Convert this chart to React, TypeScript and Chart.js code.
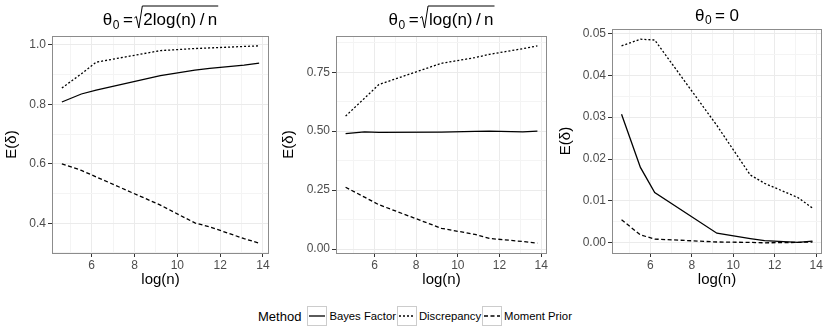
import React, { useEffect, useRef } from 'react';
import { Chart, registerables } from 'chart.js';

Chart.register(...registerables);

const FONT = '"Liberation Sans", Arial, Helvetica, sans-serif';

// ---- data ----
const logN = [4.61, 5.52, 6.21, 9.21, 10.82, 11.51, 13.12, 13.82];

const bf1 = [0.808, 0.835, 0.848, 0.897, 0.915, 0.921, 0.932, 0.939];
const disc1 = [0.855, 0.903, 0.942, 0.981, 0.988, 0.990, 0.995, 0.997];
const mp1 = [0.600, 0.578, 0.556, 0.461, 0.401, 0.388, 0.348, 0.333];

const bf2 = [0.490, 0.497, 0.495, 0.496, 0.499, 0.500, 0.497, 0.500];
const disc2 = [0.564, 0.640, 0.698, 0.788, 0.812, 0.826, 0.850, 0.862];
const mp2 = [0.262, 0.220, 0.188, 0.088, 0.062, 0.045, 0.032, 0.025];

const bf3 = [0.0307, 0.0180, 0.0120, 0.0023, 0.0010, 0.0005, 0.0001, 0.0004];
const disc3 = [0.0470, 0.0486, 0.0484, 0.0280, 0.0162, 0.0142, 0.0108, 0.0083];
const mp3 = [0.0055, 0.0019, 0.0009, 0.0002, 0.0001, 0.0000, 0.0001, 0.0002];

const xMajor = [6, 8, 10, 12, 14];
const y1Major = [0.4, 0.6, 0.8, 1.0];
const y2Major = [0, 0.25, 0.5, 0.75];
const y3Major = [0, 0.01, 0.02, 0.03, 0.04, 0.05];

const methods = ['Bayes Factor', 'Discrepancy', 'Moment Prior'];
const xTitle = 'log(n)';
const yTitle = 'E(\u03b4)';
const legendTitle = 'Method';

// ---- styles ----
const DASHES: number[][] = [[], [2, 2], [4, 2.5]];

function expand(arrs: number[][]): [number, number] {
  const all = arrs.flat();
  const lo = Math.min(...all);
  const hi = Math.max(...all);
  const d = (hi - lo) * 0.05;
  return [lo - d, hi + d];
}

function tickList(majors: number[], lo: number, hi: number) {
  const step = majors[1] - majors[0];
  const out: number[] = [];
  for (let k = -1; k <= (majors.length - 1) * 2 + 1; k++) {
    const v = +(majors[0] + (k * step) / 2).toFixed(8);
    if (v >= lo - 1e-9 && v <= hi + 1e-9) out.push(v);
  }
  return out;
}

const isMajor = (majors: number[], v: number) => majors.some((m) => Math.abs(m - v) < 1e-7);

type Spec = {
  left: number;
  w: number;
  h: number;
  plotLeft: number;
  plotRight: number;
  plotTop: number;
  plotBottom: number;
  series: number[][];
  yMajor: number[];
  decimals: number;
  kind: 'two' | 'one' | 'zero';
  titleBase: number;
  yTitleX: number;
};

function drawTitle(ctx: CanvasRenderingContext2D, kind: string, cx: number, base: number) {
  const main = `17px ${FONT}`;
  const sub = `12px ${FONT}`;
  ctx.font = main;
  const wTh = ctx.measureText('\u03b8').width;
  const wEq = ctx.measureText('=').width;
  ctx.font = sub;
  const wSub = ctx.measureText('0').width;
  ctx.font = main;
  const rad = kind === 'two' ? '2log(n)\u2009/\u2009n' : kind === 'one' ? 'log(n)\u2009/\u2009n' : null;
  const wRad = rad ? ctx.measureText(rad).width : ctx.measureText('0').width;
  const gapEq = rad ? 1.5 : 4.5;
  const radW = rad ? 9 + wRad + 1 : wRad;
  const total = wTh + 0.5 + wSub + 3.5 + wEq + gapEq + radW;
  let x = cx - total / 2;
  ctx.fillStyle = '#000';
  ctx.textAlign = 'left';
  ctx.textBaseline = 'alphabetic';
  ctx.fillText('\u03b8', x, base);
  x += wTh + 0.5;
  ctx.font = sub;
  ctx.fillText('0', x, base + 3.5);
  x += wSub + 3.5;
  ctx.font = main;
  ctx.fillText('=', x, base);
  x += wEq + gapEq;
  if (rad) {
    const top = base - 19;
    ctx.strokeStyle = '#000';
    ctx.lineWidth = 1;
    ctx.beginPath();
    ctx.moveTo(x, base - 7);
    ctx.lineTo(x + 2, base - 8.5);
    ctx.lineTo(x + 4.5, base + 3);
    ctx.lineTo(x + 8, top);
    ctx.lineTo(x + 9 + wRad + 1, top);
    ctx.stroke();
    ctx.fillText(rad, x + 9, base);
  } else {
    ctx.fillText('0', x, base);
  }
}

function Panel({ spec }: { spec: Spec }) {
  const ref = useRef<HTMLCanvasElement>(null);
  useEffect(() => {
    const canvas = ref.current!;
    const [xmin, xmax] = expand([logN]);
    const [ymin, ymax] = expand(spec.series);
    const xTicks = tickList(xMajor, xmin, xmax);
    const yTicks = tickList(spec.yMajor, ymin, ymax);

    const decor = {
      id: 'decor',
      afterDatasetsDraw(chart: any) {
        const { ctx, chartArea: a } = chart;
        ctx.save();
        ctx.strokeStyle = '#8c8c8c';
        ctx.lineWidth = 1;
        ctx.strokeRect(a.left + 0.5, a.top + 0.5, a.right - a.left - 1, a.bottom - a.top);
        ctx.restore();
      },
      afterDraw(chart: any) {
        const { ctx, chartArea: a } = chart;
        ctx.save();
        const cx = (a.left + a.right) / 2;
        drawTitle(ctx, spec.kind, cx, spec.titleBase);
        ctx.font = `15px ${FONT}`;
        ctx.fillStyle = '#000';
        ctx.textAlign = 'center';
        ctx.textBaseline = 'alphabetic';
        ctx.fillText(xTitle, cx, 284);
        ctx.translate(spec.yTitleX, (a.top + a.bottom) / 2);
        ctx.rotate(-Math.PI / 2);
        ctx.textBaseline = 'middle';
        ctx.fillText(yTitle, 0, 0);
        ctx.restore();
      },
    };

    const gridFor = (majors: number[]) => ({
      color: (c: any) => (c.tick && isMajor(majors, c.tick.value) ? '#ebebeb' : '#f4f4f4'),
      lineWidth: 1,
      tickColor: (c: any) => (c.tick && isMajor(majors, c.tick.value) ? '#333333' : 'rgba(0,0,0,0)'),
      tickLength: 4,
      tickWidth: 1,
      drawTicks: true,
    });

    const chart = new Chart(canvas, {
      type: 'line',
      data: {
        datasets: methods.map((m, i) => ({
          label: m,
          data: logN.map((x, j) => ({ x, y: spec.series[i][j] })),
          borderColor: '#000',
          borderWidth: 1.3,
          borderDash: DASHES[i],
          pointRadius: 0,
          tension: 0,
          fill: false,
        })),
      },
      options: {
        responsive: false,
        animation: false,
        devicePixelRatio: 1,
        layout: {
          padding: { left: 0, top: spec.plotTop, right: spec.w - spec.plotRight, bottom: 0 },
        },
        plugins: {
          legend: { display: false },
          tooltip: { enabled: false },
          title: { display: false },
        },
        scales: {
          x: {
            type: 'linear',
            min: xmin,
            max: xmax,
            afterBuildTicks: (s: any) => {
              s.ticks = xTicks.map((v) => ({ value: v }));
            },
            afterFit: (s: any) => {
              s.height = spec.h - spec.plotBottom;
              s.paddingLeft = 0;
              s.paddingRight = 0;
            },
            grid: gridFor(xMajor),
            border: { display: false },
            ticks: {
              autoSkip: false,
              maxRotation: 0,
              padding: 1,
              color: '#4d4d4d',
              font: { family: FONT, size: 12 },
              callback: (v: any) => (isMajor(xMajor, Number(v)) ? String(Math.round(Number(v))) : ''),
            },
          },
          y: {
            type: 'linear',
            min: ymin,
            max: ymax,
            afterBuildTicks: (s: any) => {
              s.ticks = yTicks.map((v) => ({ value: v }));
            },
            afterFit: (s: any) => {
              s.width = spec.plotLeft;
              s.paddingTop = 0;
              s.paddingBottom = 0;
            },
            grid: gridFor(spec.yMajor),
            border: { display: false },
            ticks: {
              autoSkip: false,
              padding: 2,
              color: '#4d4d4d',
              font: { family: FONT, size: 12 },
              callback: (v: any) => (isMajor(spec.yMajor, Number(v)) ? Number(v).toFixed(spec.decimals) : ''),
            },
          },
        },
      } as any,
      plugins: [decor],
    } as any);
    return () => chart.destroy();
  }, []);
  return (
    <canvas
      ref={ref}
      width={spec.w}
      height={spec.h}
      style={{ position: 'absolute', left: spec.left, top: 0, width: spec.w, height: spec.h }}
    />
  );
}

const specs: Spec[] = [
  {
    left: 0, w: 278, h: 300, plotLeft: 52, plotRight: 269, plotTop: 36, plotBottom: 253,
    series: [bf1, disc1, mp1], yMajor: y1Major, decimals: 1, kind: 'two', titleBase: 25, yTitleX: 12,
  },
  {
    left: 278, w: 278, h: 300, plotLeft: 58, plotRight: 269, plotTop: 36, plotBottom: 253,
    series: [bf2, disc2, mp2], yMajor: y2Major, decimals: 2, kind: 'one', titleBase: 25, yTitleX: 11,
  },
  {
    left: 556, w: 274, h: 300, plotLeft: 56, plotRight: 266, plotTop: 29, plotBottom: 253,
    series: [bf3, disc3, mp3], yMajor: y3Major, decimals: 2, kind: 'zero', titleBase: 20.5, yTitleX: 10,
  },
];

function KeyIcon({ dash }: { dash: number[] }) {
  return (
    <svg width={20} height={20} style={{ display: 'block', flex: 'none' }}>
      <rect x={0.5} y={0.5} width={19} height={19} fill="#fff" stroke="#cccccc" strokeWidth={1} />
      <line
        x1={2}
        y1={10}
        x2={18}
        y2={10}
        stroke="#000"
        strokeWidth={1.3}
        strokeDasharray={dash.length ? dash.join(' ') : undefined}
      />
    </svg>
  );
}

function Legend() {
  return (
    <div
      style={{
        position: 'absolute',
        left: 258,
        top: 306,
        height: 20,
        display: 'flex',
        alignItems: 'center',
        whiteSpace: 'nowrap',
        color: '#000',
      }}
    >
      <span style={{ fontSize: 13, marginRight: 6 }}>{legendTitle}</span>
      {methods.map((m, i) => (
        <React.Fragment key={m}>
          <KeyIcon dash={DASHES[i]} />
          <span style={{ fontSize: 11.3, marginLeft: 2, marginRight: 1 }}>{m}</span>
        </React.Fragment>
      ))}
    </div>
  );
}

export default function App() {
  return (
    <div
      style={{
        position: 'absolute',
        left: 0,
        top: 0,
        width: 830,
        height: 332,
        background: '#fff',
        fontFamily: FONT,
        overflow: 'hidden',
      }}
    >
      {specs.map((s, i) => (
        <Panel key={i} spec={s} />
      ))}
      <Legend />
    </div>
  );
}
